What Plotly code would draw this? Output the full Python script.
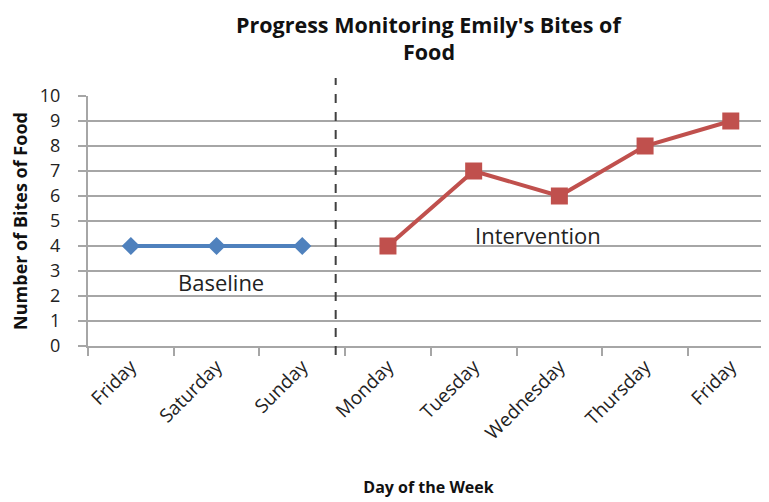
import plotly.graph_objects as go

# ---- data ----
day_labels = ["Friday", "Saturday", "Sunday", "Monday", "Tuesday",
              "Wednesday", "Thursday", "Friday"]
baseline_idx = [0, 1, 2]
baseline_vals = [4, 4, 4]
intervention_idx = [3, 4, 5, 6, 7]
intervention_vals = [4, 7, 6, 8, 9]
y_ticks = list(range(0, 11))
phase_change_x = 2.39  # dashed phase-change line between Sunday and Monday

FONT = "Open Sans"
GRID = "#a6a6a6"

fig = go.Figure()
fig.add_trace(go.Scatter(
    x=baseline_idx, y=baseline_vals, mode="lines+markers",
    line=dict(color="#4F81BD", width=4),
    marker=dict(symbol="diamond", size=14, color="#4F81BD"),
    showlegend=False, cliponaxis=False))
fig.add_trace(go.Scatter(
    x=intervention_idx, y=intervention_vals, mode="lines+markers",
    line=dict(color="#C0504D", width=4),
    marker=dict(symbol="square", size=17, color="#C0504D"),
    showlegend=False, cliponaxis=False))

fig.add_shape(type="line", xref="x", yref="paper",
              x0=phase_change_x, x1=phase_change_x, y0=-0.036, y1=1.072,
              line=dict(color="#404040", width=2, dash="dash"))

fig.add_annotation(x=1.05, y=2.56, xref="x", yref="y", text="Baseline",
                   showarrow=False, font=dict(family=FONT, size=22, color="#222"))
fig.add_annotation(x=4.75, y=4.44, xref="x", yref="y", text="Intervention",
                   showarrow=False, font=dict(family=FONT, size=22, color="#222"))

# title as two lines
fig.add_annotation(x=0.5, xref="paper", y=1.286, yref="paper", yanchor="middle",
                   text="<b>Progress Monitoring Emily's Bites of</b>", showarrow=False,
                   borderpad=0, font=dict(family=FONT, size=21.5, color="#111"))
fig.add_annotation(x=0.5, xref="paper", y=1.18, yref="paper", yanchor="middle",
                   text="<b>Food</b>", showarrow=False, borderpad=0,
                   font=dict(family=FONT, size=21.5, color="#111"))

fig.update_xaxes(
    range=[-0.5, 7.446], tickmode="array", tickvals=list(range(len(day_labels))),
    ticktext=day_labels, tickangle=-45, ticks="", showgrid=False, zeroline=False,
    showline=True, linecolor=GRID, linewidth=2,
    tickfont=dict(family=FONT, size=19, color="#222"),
    minor=dict(tickmode="array", tickvals=[i - 0.5 for i in range(len(day_labels) + 1)],
               ticks="outside", ticklen=8, tickcolor=GRID, tickwidth=2, showgrid=False),
    title=dict(text="<b>Day of the Week</b>", font=dict(family=FONT, size=16, color="#111"),
               standoff=38),
    fixedrange=True)
fig.update_yaxes(
    range=[0, 10], tickmode="array", tickvals=y_ticks, ticks="outside", ticklen=8,
    tickcolor=GRID, tickwidth=2, showgrid=True, gridcolor=GRID, gridwidth=1.5,
    zeroline=False, showline=True, linecolor=GRID, linewidth=2,
    tickfont=dict(family=FONT, size=18, color="#222"), ticklabelstandoff=14,
    title=dict(text="<b>Number of Bites of Food</b>",
               font=dict(family=FONT, size=18, color="#111"), standoff=12),
    fixedrange=True)

fig.update_layout(
    width=761, height=494, margin=dict(l=80, r=0, t=88, b=156, autoexpand=False),
    plot_bgcolor="white", paper_bgcolor="white", showlegend=False)

fig.write_html("out.html")
